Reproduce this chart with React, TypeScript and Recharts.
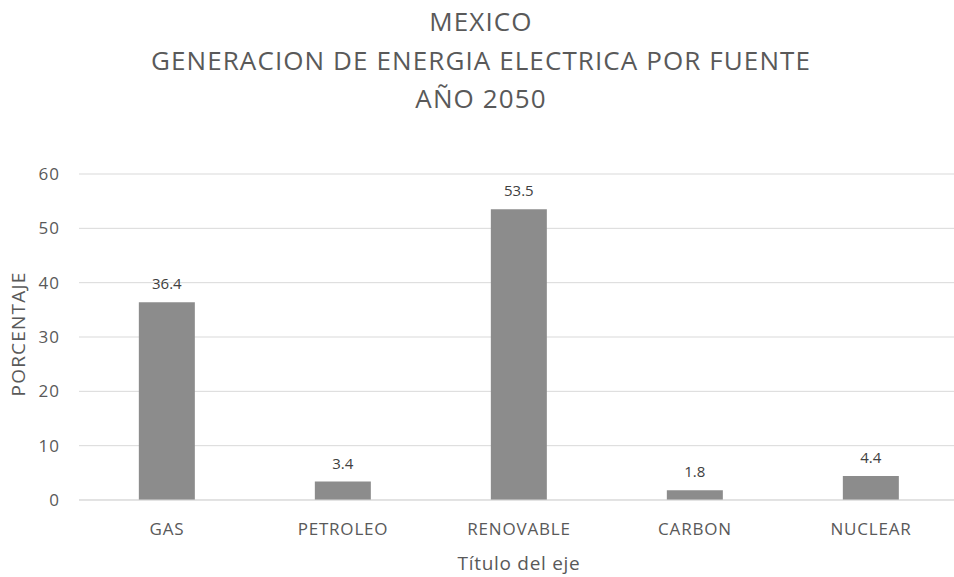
import { Bar, BarChart, CartesianGrid, Label, LabelList, XAxis, YAxis } from "recharts"

const categories = ["GAS", "PETROLEO", "RENOVABLE", "CARBON", "NUCLEAR"]
const percentages = [36.4, 3.4, 53.5, 1.8, 4.4]
const yTicks = [0, 10, 20, 30, 40, 50, 60]
const titleLines = ["MEXICO", "GENERACION DE ENERGIA ELECTRICA POR FUENTE", "AÑO 2050"]

const data = categories.map((name, i) => ({ name, value: percentages[i] }))

const FONT = "'Open Sans', sans-serif"
const TEXT = "#595959"

export default function App() {
    return (
        <div style={{ position: "absolute", left: 0, top: 0, width: 954, height: 577, overflow: "hidden", background: "#fff", fontFamily: FONT }}>
            <div style={{ position: "absolute", left: 0, top: 2, width: 962, textAlign: "center", color: TEXT, fontSize: 26, letterSpacing: 1.1, lineHeight: "38.5px" }}>
                {titleLines.map(t => <div key={t}>{t}</div>)}
            </div>
            <BarChart
                width={960}
                height={577}
                data={data}
                margin={{ top: 174, right: 1, bottom: 0, left: 19 }}
                barCategoryGap="34%"
                style={{ position: "absolute", left: 0, top: 0 }}
            >
                <CartesianGrid vertical={false} stroke="#d9d9d9" />
                <XAxis
                    dataKey="name"
                    axisLine={{ stroke: "#d9d9d9" }}
                    tickLine={false}
                    tickMargin={17}
                    tick={{ fill: TEXT, fontSize: 17, fontFamily: FONT, letterSpacing: 0.8 }}
                    height={77}
                >
                    <Label
                        content={() => (
                            <text x={519} y={563} textAnchor="middle" dominantBaseline="central" fill={TEXT} fontSize={19} letterSpacing={0.7} fontFamily={FONT}>
                                Título del eje
                            </text>
                        )}
                    />
                </XAxis>
                <YAxis
                    domain={[0, 60]}
                    ticks={yTicks}
                    axisLine={false}
                    tickLine={false}
                    tickMargin={13}
                    width={60}
                    tick={{ fill: TEXT, fontSize: 17, fontFamily: FONT, letterSpacing: 1 }}
                >
                    <Label
                        content={() => (
                            <text x={18} y={334} transform="rotate(-90 18 334)" textAnchor="middle" dominantBaseline="central" fill={TEXT} fontSize={19} letterSpacing={1.2} fontFamily={FONT}>
                                PORCENTAJE
                            </text>
                        )}
                    />
                </YAxis>
                <Bar dataKey="value" fill="#8c8c8c" isAnimationActive={false}>
                    <LabelList dataKey="value" position="top" offset={13} fill="#404040" fontSize={15} fontFamily={FONT} />
                </Bar>
            </BarChart>
        </div>
    )
}
